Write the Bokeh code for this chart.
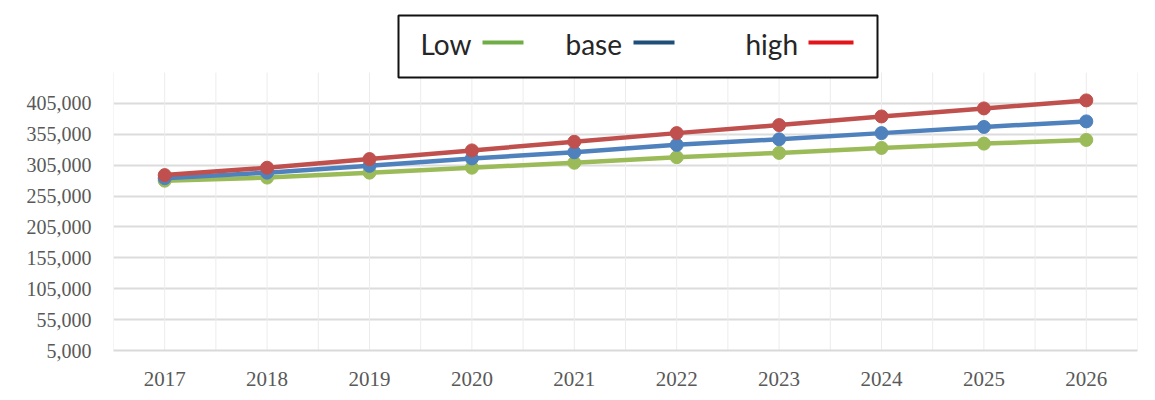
import numpy as np
from bokeh.plotting import figure
from bokeh.models import Range1d, FixedTicker, NumeralTickFormatter, ColumnDataSource
from bokeh.core.properties import value
from bokeh.embed import file_html
from bokeh.resources import INLINE

years = [2017, 2018, 2019, 2020, 2021, 2022, 2023, 2024, 2025, 2026]
low = [280000, 285000, 293000, 301000, 309000, 318000, 325000, 333000, 340000, 346000]
base = [284000, 293000, 304000, 316000, 326000, 338000, 347000, 357000, 367000, 376000]
high = [289000, 301000, 315000, 329000, 343000, 357000, 370000, 384000, 397000, 410000]
y_ticks = [5000, 55000, 105000, 155000, 205000, 255000, 305000, 355000, 405000]
series_names = ["Low", "base", "high"]

line_colors = ["#9BBB59", "#4F81BD", "#C0504D"]
legend_colors = ["#70AD47", "#1F4E79", "#E3151B"]

W, H = 1147, 392
BL, BR, BT, BB = 113, 10, 8, 42
FW, FH = W - BL - BR, H - BT - BB

p = figure(width=W, height=H, output_backend="svg", toolbar_location=None,
           x_range=Range1d(2016.5, 2026.5), y_range=Range1d(5000, 558800),
           min_border_left=BL, min_border_right=BR, min_border_top=BT, min_border_bottom=BB)
p.outline_line_color = None
p.background_fill_color = "white"
p.border_fill_color = "white"

# grids
p.xgrid.grid_line_color = None
p.ygrid.grid_line_color = "#dcdcdc"
p.ygrid.grid_line_width = 2
half = np.arange(years[0] - 0.5, years[-1] + 0.51, 0.5)
p.segment(x0=half, x1=half, y0=y_ticks[0], y1=455000, line_color="#ececec", line_width=1)

# axes
p.yaxis.ticker = FixedTicker(ticks=y_ticks)
p.yaxis.formatter = NumeralTickFormatter(format="0,0")
p.yaxis.axis_line_color = None
p.yaxis.major_tick_line_color = None
p.yaxis.minor_tick_line_color = None
p.yaxis.major_label_standoff = 16
p.yaxis.major_label_text_font = "Liberation Serif"
p.yaxis.major_label_text_font_size = "20px"
p.yaxis.major_label_text_color = "#595959"

p.xaxis.ticker = FixedTicker(ticks=years)
p.xaxis.axis_line_color = "#d9d9d9"
p.xaxis.axis_line_width = 2
p.xaxis.major_tick_line_color = None
p.xaxis.minor_tick_line_color = None
p.xaxis.major_label_standoff = 15
p.xaxis.major_label_text_font = "Liberation Serif"
p.xaxis.major_label_text_font_size = "21px"
p.xaxis.major_label_text_color = "#595959"

for vals, col in zip([low, base, high], line_colors):
    src = ColumnDataSource(dict(x=years, y=vals))
    p.line("x", "y", source=src, line_color=col, line_width=4.5)
    p.scatter("x", "y", source=src, size=13, fill_color=col, line_color=col)

# legend drawn in frame pixel coordinates
p.extra_x_ranges = {"lx": Range1d(0, FW)}
p.extra_y_ranges = {"ly": Range1d(0, FH)}
p.rect(x=[524.5], y=[304], width=[479], height=[62], fill_color="white",
       line_color="#111111", line_width=2, x_range_name="lx", y_range_name="ly")
p.text(x=[307, 452, 632], y=[307, 307, 307], text=series_names,
       text_font=value("Lato"), text_font_size="28px", text_color="#262626",
       text_baseline="alphabetic", text_align="left",
       x_range_name="lx", y_range_name="ly")
p.segment(x0=[369, 520, 695], x1=[410, 561, 740], y0=[308, 308, 308], y1=[308, 308, 308],
          line_color=legend_colors, line_width=4, x_range_name="lx", y_range_name="ly")

open("out.html", "w").write(file_html(p, INLINE))
